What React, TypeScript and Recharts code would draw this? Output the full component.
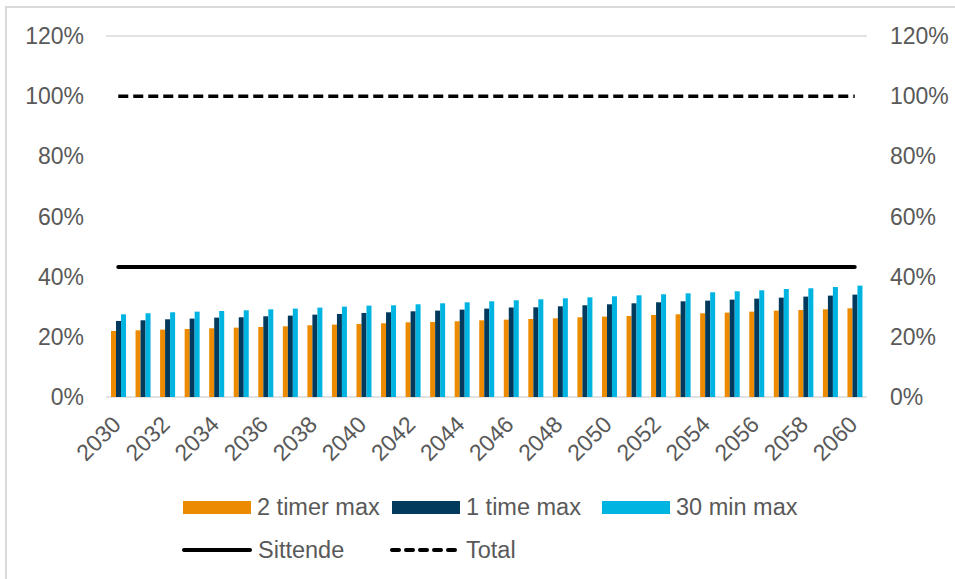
import { ComposedChart, Bar, Line, XAxis, YAxis, CartesianGrid } from 'recharts';

const years = [
    '2030', '2031', '2032', '2033', '2034', '2035', '2036', '2037', '2038', '2039', '2040',
    '2041', '2042', '2043', '2044', '2045', '2046', '2047', '2048', '2049', '2050',
    '2051', '2052', '2053', '2054', '2055', '2056', '2057', '2058', '2059', '2060',
];

// 2 timer max
const toTimerMax = [
    21.95, 22.17, 22.4, 22.62, 22.84, 23.06, 23.28, 23.5, 23.84, 24.06, 24.28,
    24.5, 24.83, 24.94, 25.17, 25.5, 25.72, 25.94, 26.16, 26.5, 26.72,
    26.94, 27.27, 27.49, 27.83, 28.05, 28.38, 28.71, 28.93, 29.15, 29.49,
];

// 1 time max
const enTimeMax = [
    25.28, 25.5, 25.83, 26.05, 26.39, 26.5, 26.83, 27.05, 27.38, 27.6, 27.94,
    28.16, 28.49, 28.71, 29.04, 29.38, 29.71, 29.82, 30.15, 30.49, 30.82,
    31.15, 31.48, 31.81, 32.04, 32.37, 32.7, 33.03, 33.37, 33.7, 34.03,
];

// 30 min max
const tretiMinMax = [
    27.49, 27.83, 28.16, 28.38, 28.6, 28.82, 29.15, 29.38, 29.71, 30.04, 30.37,
    30.49, 30.82, 31.15, 31.48, 31.81, 32.15, 32.48, 32.81, 33.14, 33.48,
    33.81, 34.14, 34.47, 34.81, 35.14, 35.47, 35.91, 36.14, 36.58, 37.02,
];

const sittende = [
    43.2, 43.2, 43.2, 43.2, 43.2, 43.2, 43.2, 43.2, 43.2, 43.2, 43.2,
    43.2, 43.2, 43.2, 43.2, 43.2, 43.2, 43.2, 43.2, 43.2, 43.2,
    43.2, 43.2, 43.2, 43.2, 43.2, 43.2, 43.2, 43.2, 43.2, 43.2,
];

const total = [
    100, 100, 100, 100, 100, 100, 100, 100, 100, 100, 100,
    100, 100, 100, 100, 100, 100, 100, 100, 100, 100,
    100, 100, 100, 100, 100, 100, 100, 100, 100, 100,
];

const yTicks = [0, 20, 40, 60, 80, 100, 120];

const ORANGE = '#ed8b00';
const NAVY = '#023a5d';
const CYAN = '#00b4e1';
const TEXT = '#595959';
const GRID = '#d9d9d9';
const FONT = '"Liberation Sans", Arial, sans-serif';

const data = years.map((year, i) => ({
    year,
    toTimer: toTimerMax[i],
    enTime: enTimeMax[i],
    tretiMin: tretiMinMax[i],
    sittende: sittende[i],
    total: total[i],
}));

function YearTick({ x, y, payload }: any) {
    const ax = x + 4;
    const ay = y + 29;
    return (
        <text
            x={ax}
            y={ay}
            transform={`rotate(-45, ${ax}, ${ay})`}
            textAnchor="end"
            fill={TEXT}
            fontSize={23}
            fontFamily={FONT}
        >
            {payload.value}
        </text>
    );
}

const legendRows = [
    [
        { label: '2 timer max', kind: 'bar', color: ORANGE, left: 183 },
        { label: '1 time max', kind: 'bar', color: NAVY, left: 392 },
        { label: '30 min max', kind: 'bar', color: CYAN, left: 602 },
    ],
    [
        { label: 'Sittende', kind: 'line', color: '#000', left: 182 },
        { label: 'Total', kind: 'dash', color: '#000', left: 390 },
    ],
];

function Swatch({ kind, color }: { kind: string; color: string }) {
    if (kind === 'bar') {
        return <span style={{ width: 68, height: 13, background: color, display: 'inline-block' }} />;
    }
    return (
        <svg width={70} height={6} style={{ display: 'block' }}>
            <line
                x1={2}
                y1={3}
                x2={68}
                y2={3}
                stroke={color}
                strokeWidth={4}
                strokeLinecap="round"
                strokeDasharray={kind === 'dash' ? '7 7' : undefined}
            />
        </svg>
    );
}

export default function App() {
    return (
        <div
            style={{
                position: 'absolute',
                left: 0,
                top: 0,
                width: 955,
                height: 579,
                overflow: 'hidden',
                background: '#fff',
                fontFamily: FONT,
            }}
        >
            <div
                style={{
                    position: 'absolute',
                    left: 5,
                    top: 6,
                    width: 980,
                    height: 600,
                    border: `2px solid ${GRID}`,
                }}
            />
            <div style={{ position: 'absolute', left: 0, top: 0 }}>
                <ComposedChart
                    width={955}
                    height={470}
                    data={data}
                    margin={{ top: 36, right: 0, bottom: 0, left: 0 }}
                    barGap={0}
                >
                    <CartesianGrid vertical={false} stroke={GRID} strokeWidth={1.5} />
                    <XAxis
                        dataKey="year"
                        interval={1}
                        tick={<YearTick />}
                        tickLine={false}
                        axisLine={false}
                        tickSize={0}
                        tickMargin={0}
                        height={73}
                    />
                    <YAxis
                        yAxisId="left"
                        orientation="left"
                        width={106}
                        domain={[0, 120]}
                        ticks={yTicks}
                        tickFormatter={(v) => `${v}%`}
                        tick={{ fill: TEXT, fontSize: 23, fontFamily: FONT }}
                        tickLine={false}
                        axisLine={false}
                        tickSize={0}
                        tickMargin={22}
                    />
                    <YAxis
                        yAxisId="right"
                        orientation="right"
                        width={88}
                        domain={[0, 120]}
                        ticks={yTicks}
                        tickFormatter={(v) => `${v}%`}
                        tick={{ fill: TEXT, fontSize: 23, fontFamily: FONT, textAnchor: 'start' }}
                        tickLine={false}
                        axisLine={false}
                        tickSize={0}
                        tickMargin={23}
                    />
                    <Bar yAxisId="left" dataKey="toTimer" fill={ORANGE} barSize={5} isAnimationActive={false} />
                    <Bar yAxisId="left" dataKey="enTime" fill={NAVY} barSize={5} isAnimationActive={false} />
                    <Bar yAxisId="left" dataKey="tretiMin" fill={CYAN} barSize={5} isAnimationActive={false} />
                    <Line
                        yAxisId="right"
                        dataKey="sittende"
                        stroke="#000"
                        strokeWidth={4}
                        dot={false}
                        activeDot={false}
                        strokeLinecap="round"
                        isAnimationActive={false}
                    />
                    <Line
                        yAxisId="right"
                        dataKey="total"
                        stroke="#000"
                        strokeWidth={3.5}
                        strokeDasharray="10 5"
                        dot={false}
                        activeDot={false}
                        isAnimationActive={false}
                    />
                </ComposedChart>
            </div>
            {legendRows.map((row, r) =>
                row.map((item) => (
                    <div
                        key={item.label}
                        style={{
                            position: 'absolute',
                            left: item.left,
                            top: r === 0 ? 492 : 535,
                            height: 30,
                            display: 'flex',
                            alignItems: 'center',
                            gap: 6,
                            color: TEXT,
                            fontSize: 23.5,
                            whiteSpace: 'nowrap',
                        }}
                    >
                        <Swatch kind={item.kind} color={item.color} />
                        <span>{item.label}</span>
                    </div>
                ))
            )}
        </div>
    );
}
